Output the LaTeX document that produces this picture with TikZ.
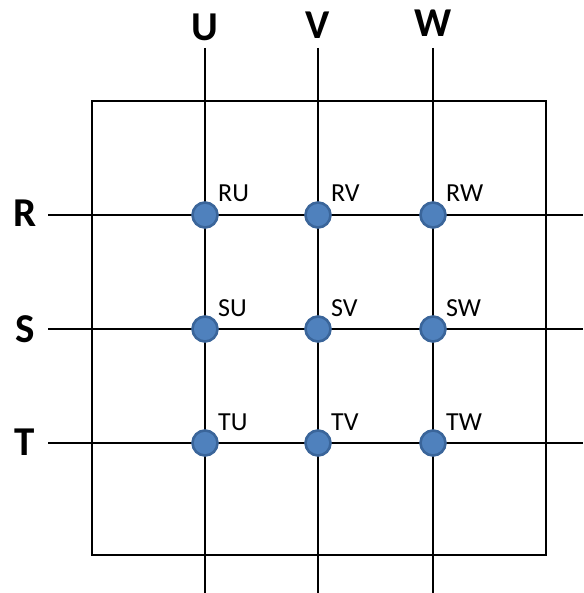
\documentclass[tikz,border=0pt]{standalone}
\usepackage{fontspec}
\setmainfont{Carlito}
\begin{document}
\begin{tikzpicture}[x=1pt,y=-1pt,
  gridline/.style={line width=2.3pt,draw=black},
  joint/.style={circle,inner sep=0pt,minimum size=25pt,fill=dotblue,draw=dotedge,line width=2.6pt},
  axislabel/.style={font=\fontsize{41}{41}\selectfont\bfseries,inner sep=0pt},
  pairlabel/.style={font=\fontsize{26}{26}\selectfont,inner sep=0pt,anchor=base west}]
\definecolor{dotblue}{HTML}{4F81BD}
\definecolor{dotedge}{HTML}{3A659A}
\useasboundingbox (0,0) rectangle (583,593);
% outer frame
\draw[gridline] (92,101) rectangle (546,555);
% line ends
\coordinate (Utop) at (205,48); \coordinate (Ubot) at (205,593);
\coordinate (Vtop) at (318,48); \coordinate (Vbot) at (318,593);
\coordinate (Wtop) at (433,48); \coordinate (Wbot) at (433,593);
\coordinate (Rl) at (48,215); \coordinate (Rr) at (583,215);
\coordinate (Sl) at (48,329); \coordinate (Sr) at (583,329);
\coordinate (Tl) at (48,443); \coordinate (Tr) at (583,443);
\foreach \a/\b in {Utop/Ubot,Vtop/Vbot,Wtop/Wbot,Rl/Rr,Sl/Sr,Tl/Tr}
  \draw[gridline] (\a) -- (\b);
% axis names
\node[axislabel] (U) at (205,27) {U};
\node[axislabel] (V) at (318,25) {V};
\node[axislabel] (W) at (433,23) {W};
\node[axislabel] (R) at (25,213) {R};
\node[axislabel] (S) at (25,329) {S};
\node[axislabel] (T) at (25,442) {T};
% crossing points and their names
\foreach \r/\y in {R/215,S/329,T/443}
  \foreach \c/\x in {U/205,V/318,W/433} {
    \node[joint] (\r\c) at (\x,\y) {};
    \node[pairlabel] (\r\c lbl) at (\x+13,\y-13) {\r\c};
  }
\end{tikzpicture}
\end{document}
